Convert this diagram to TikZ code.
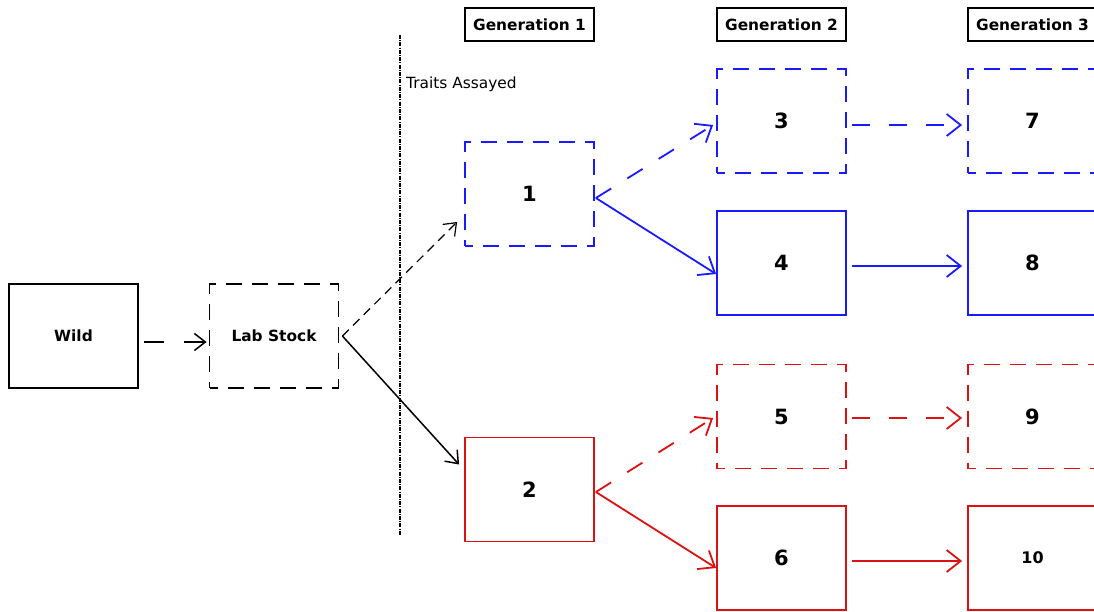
\documentclass[tikz,border=0pt]{standalone}
\usepackage{fontspec}
\setmainfont{DejaVu Sans}
\usetikzlibrary{arrows.meta}
\definecolor{bl}{RGB}{26,26,255}
\definecolor{rd}{RGB}{221,17,17}
\tikzset{
  box/.style={draw, minimum width=129pt, minimum height=104pt, inner sep=0pt, line width=1.8pt, font=\fontsize{15.4}{18}\selectfont\bfseries},
  dbox/.style={box, dash pattern=on 16pt off 10pt, dash phase=8pt},
  num/.style={font=\fontsize{21}{24}\selectfont\bfseries},
  genbox/.style={draw, line width=1.6pt, minimum width=129pt, minimum height=33pt, inner sep=0pt, font=\fontsize{15.4}{18}\selectfont\bfseries},
  bigtip/.style={-{Straight Barb[length=14pt,width=22pt]}},
  smalltip/.style={-{Straight Barb[length=11pt,width=17pt]}},
  cline/.style={line width=1.8pt, bigtip},
  cdash/.style={cline, dash pattern=on 18pt off 19pt},
  bline/.style={line width=1.5pt, smalltip},
}
\begin{document}
\begin{tikzpicture}[x=1pt,y=-1pt]
\useasboundingbox (0,0) rectangle (1094,611);
% generation headers
\node[genbox] (g1) at (529.5,24.5) {Generation 1};
\node[genbox] (g2) at (781.5,24.5) {Generation 2};
\node[genbox] (g3) at (1032.5,24.5) {Generation 3};
% divider
\coordinate (dtop) at (400,35);
\coordinate (dbot) at (400,535);
\draw[line width=1.4pt, dash pattern=on 4pt off 1.2pt on 1pt off 1.2pt] (dtop) -- (dbot);
\node[anchor=west, inner sep=0pt, font=\fontsize{15.4}{18}\selectfont] (traits) at (406,84) {Traits Assayed};
% nodes
\node[box] (wild) at (73.5,336) {Wild};
\node[dbox] (lab) at (274,336) {Lab Stock};
\node[dbox, bl, text=black, num] (n1) at (529.5,194) {1};
\node[box, rd, text=black, num] (n2) at (529.5,489.5) {2};
\node[dbox, bl, text=black, num] (n3) at (781.5,121) {3};
\node[box, bl, text=black, num] (n4) at (781.5,263) {4};
\node[dbox, rd, text=black, num] (n5) at (781.5,416.5) {5};
\node[box, rd, text=black, num] (n6) at (781.5,558) {6};
\node[dbox, bl, text=black, num] (n7) at (1032.5,121) {7};
\node[box, bl, text=black, num] (n8) at (1032.5,263) {8};
\node[dbox, rd, text=black, num] (n9) at (1032.5,416.5) {9};
\node[box, rd, text=black, font=\fontsize{16}{18}\selectfont\bfseries] (n10) at (1032.5,558) {10};
% connectors
\draw[bline, dash pattern=on 20pt off 20pt] ([xshift=5pt,yshift=-6pt]wild.east) -- ([xshift=-2pt,yshift=-6pt]lab.west);
\draw[bline, line width=1.2pt, dash pattern=on 9pt off 6pt] ([xshift=3pt]lab.east) -- ([xshift=-7pt,yshift=-28pt]n1.west);
\draw[bline] ([xshift=3pt]lab.east) -- ([xshift=-5pt,yshift=25pt]n2.west);
\draw[cdash, bl] ([xshift=1pt,yshift=-4pt]n1.east) -- ([xshift=-3pt,yshift=-4pt]n3.west);
\draw[cline, bl] ([xshift=1pt,yshift=-4pt]n1.east) -- ([yshift=-11pt]n4.west);
\draw[cdash, bl] ([xshift=5pt,yshift=-4pt]n3.east) -- ([xshift=-5pt,yshift=-4pt]n7.west);
\draw[cline, bl] ([xshift=5pt,yshift=-3pt]n4.east) -- ([xshift=-5pt,yshift=-3pt]n8.west);
\draw[cdash, rd] ([xshift=1pt,yshift=-2.5pt]n2.east) -- ([xshift=-3pt,yshift=-1.5pt]n5.west);
\draw[cline, rd] ([xshift=1pt,yshift=-2.5pt]n2.east) -- ([yshift=-10pt]n6.west);
\draw[cdash, rd] ([xshift=5pt,yshift=-1.5pt]n5.east) -- ([xshift=-5pt,yshift=-1.5pt]n9.west);
\draw[cline, rd] ([xshift=5pt,yshift=-3pt]n6.east) -- ([xshift=-5pt,yshift=-3pt]n10.west);
\end{tikzpicture}
\end{document}
